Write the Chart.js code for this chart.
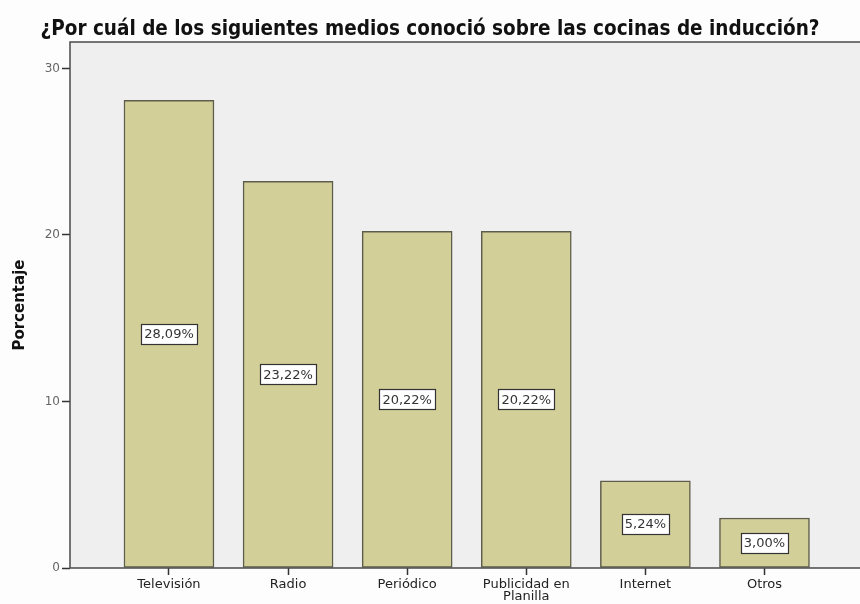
<!DOCTYPE html>
<html>
<head>
<meta charset="utf-8">
<script src="https://cdn.jsdelivr.net/npm/chart.js@4.4.1/dist/chart.umd.min.js"></script>
<style>
  html, body { margin: 0; padding: 0; background: #fdfdfd; }
  #wrap { width: 860px; height: 604px; position: relative; }
</style>
</head>
<body>
<div id="wrap"><canvas id="chart"></canvas></div>
<script>
  // Medios por los que se conoció la cocina de inducción (porcentaje)
  const categorias = ['Televisión', 'Radio', 'Periódico', ['Publicidad en', 'Planilla'], 'Internet', 'Otros'];
  const porcentajes = [28.09, 23.22, 20.22, 20.22, 5.24, 3.00];
  const ticksY = [0, 10, 20, 30];

  const titulo = '¿Por cuál de los siguientes medios conoció sobre las cocinas de inducción?';

  // fondo gris y marco del área de trazado
  const marcoPlugin = {
    id: 'marco',
    beforeDraw(chart) {
      const { ctx, chartArea: a } = chart;
      ctx.save();
      ctx.fillStyle = '#efefef';
      ctx.fillRect(a.left, a.top, a.right - a.left, a.bottom - a.top);
      ctx.restore();
    },
    afterDatasetsDraw(chart) {
      const { ctx, chartArea: a } = chart;
      ctx.save();
      ctx.strokeStyle = '#4a4a4a';
      ctx.lineWidth = 1.5;
      ctx.beginPath();
      ctx.moveTo(a.right + 2, a.top);
      ctx.lineTo(a.left, a.top);
      ctx.lineTo(a.left, a.bottom);
      ctx.lineTo(a.right + 2, a.bottom);
      ctx.stroke();
      ctx.restore();
    }
  };

  // etiqueta con el valor en el centro de cada barra
  const etiquetasPlugin = {
    id: 'etiquetas',
    afterDatasetsDraw(chart) {
      const { ctx } = chart;
      const meta = chart.getDatasetMeta(0);
      ctx.save();
      ctx.font = '13px "DejaVu Sans"';
      ctx.textAlign = 'center';
      ctx.textBaseline = 'middle';
      meta.data.forEach((bar, i) => {
        const txt = porcentajes[i].toFixed(2).replace('.', ',') + '%';
        const cy = (bar.y + bar.base) / 2;
        const w = Math.round(ctx.measureText(txt).width + 6);
        const h = 20;
        const x0 = Math.round(bar.x - w / 2);
        const y0 = Math.round(cy - h / 2);
        ctx.fillStyle = '#ffffff';
        ctx.fillRect(x0, y0, w, h);
        ctx.strokeStyle = '#333333';
        ctx.lineWidth = 1.2;
        ctx.strokeRect(x0 + 0.5, y0 + 0.5, w, h);
        ctx.fillStyle = '#333333';
        ctx.fillText(txt, bar.x, cy + 1);
      });
      ctx.restore();
    }
  };

  new Chart(document.getElementById('chart'), {
    type: 'bar',
    data: {
      datasets: [{
        data: porcentajes.map((v, i) => ({ x: i, y: v })),
        backgroundColor: '#d3cf98',
        borderColor: '#5e5d4b',
        borderWidth: 1.5,
        borderSkipped: false,
        barThickness: 90
      }]
    },
    options: {
      responsive: true,
      maintainAspectRatio: false,
      animation: false,
      layout: { padding: 0 },
      plugins: {
        legend: { display: false },
        tooltip: { enabled: false },
        title: {
          display: true,
          text: titulo,
          color: '#111111',
          font: { family: '"DejaVu Sans Condensed", "DejaVu Sans"', size: 20.5, weight: 'bold' },
          padding: { top: 17.5, bottom: 0 }
        }
      },
      scales: {
        x: {
          type: 'linear',
          offset: false,
          min: -0.831,
          max: 5.802,
          afterBuildTicks(scale) {
            scale.ticks = categorias.map((c, i) => ({ value: i }));
          },
          afterFit(scale) { scale.height = 36; },
          border: { display: false },
          grid: { offset: false, drawOnChartArea: false, drawTicks: true, tickLength: 7, tickColor: '#333333', tickWidth: 1.5 },
          ticks: {
            autoSkip: false,
            maxRotation: 0,
            padding: 4,
            color: '#222222',
            font: { family: '"DejaVu Sans"', size: 13, lineHeight: 0.92 },
            callback: (v) => categorias[v]
          }
        },
        y: {
          min: 0,
          max: 31.58,
          afterBuildTicks(scale) {
            scale.ticks = ticksY.map(v => ({ value: v }));
          },
          afterFit(scale) { scale.width = 70; },
          border: { display: false },
          grid: { drawOnChartArea: false, drawTicks: true, tickLength: 8, tickColor: '#333333', tickWidth: 1.5 },
          ticks: {
            padding: 2,
            color: '#666666',
            font: { family: '"DejaVu Sans"', size: 12 }
          },
          title: {
            display: true,
            text: 'Porcentaje',
            color: '#111111',
            font: { family: '"DejaVu Sans"', size: 15, weight: 'bold' },
            padding: { top: 11, bottom: 0 }
          }
        }
      }
    },
    plugins: [marcoPlugin, etiquetasPlugin]
  });
</script>
</body>
</html>
